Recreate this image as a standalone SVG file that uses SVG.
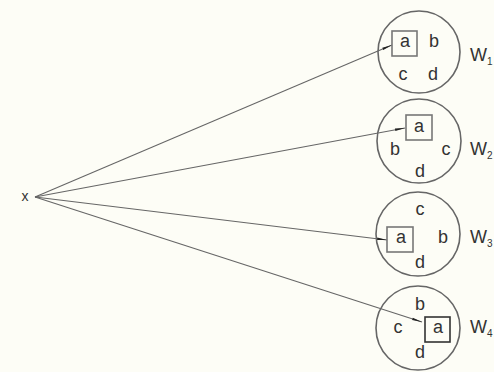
<svg xmlns="http://www.w3.org/2000/svg" width="494" height="372" viewBox="0 0 494 372">
<defs>
<style>
.bg{fill:#fdfdf6}
.c{fill:none;stroke:#666;stroke-width:1.6}
.b{fill:none;stroke:#777;stroke-width:1.6}
.b4{fill:none;stroke:#333;stroke-width:1.6}
.t{font-family:"Liberation Sans",Arial,sans-serif;font-size:18px;fill:#333;text-anchor:middle}
.w{font-family:"Liberation Sans",Arial,sans-serif;font-size:18px;fill:#333}
.s{font-size:10px}
.e{fill:none;stroke:#666;stroke-width:1.1}
</style>
<marker id="ah" viewBox="0 0 12 6" refX="12" refY="3" markerWidth="12" markerHeight="5" markerUnits="userSpaceOnUse" orient="auto">
<path d="M0,1.5 L12,3 L0,4.5 z" fill="#222"/>
</marker>
</defs>
<rect class="bg" x="0" y="0" width="494" height="372"/>
<g id="x"><text class="t" x="25" y="201" style="font-size:14px">x</text></g>
<g id="connectors">
<line class="e" x1="35" y1="197" x2="392" y2="45" marker-end="url(#ah)"/>
<line class="e" x1="35" y1="197" x2="405" y2="128" marker-end="url(#ah)"/>
<line class="e" x1="35" y1="197" x2="387" y2="240" marker-end="url(#ah)"/>
<line class="e" x1="35" y1="197" x2="422" y2="322" marker-end="url(#ah)"/>
</g>
<g id="w1">
<circle class="c" cx="419" cy="52" r="41"/>
<rect class="b" x="392" y="31" width="25" height="25"/>
<text class="t" x="405" y="47">a</text>
<text class="t" x="434" y="47">b</text>
<text class="t" x="403" y="80">c</text>
<text class="t" x="433" y="80">d</text>
<text class="w" x="470" y="61">W<tspan class="s" dy="4">1</tspan></text>
</g>
<g id="w2">
<circle class="c" cx="419" cy="141" r="42"/>
<rect class="b" x="406" y="115" width="26" height="25"/>
<text class="t" x="419" y="132">a</text>
<text class="t" x="395" y="155">b</text>
<text class="t" x="446" y="155">c</text>
<text class="t" x="420" y="177">d</text>
<text class="w" x="470" y="155">W<tspan class="s" dy="4">2</tspan></text>
</g>
<g id="w3">
<circle class="c" cx="418" cy="234" r="42"/>
<rect class="b" x="387" y="227" width="26" height="25"/>
<text class="t" x="401" y="243">a</text>
<text class="t" x="420" y="215">c</text>
<text class="t" x="443" y="243">b</text>
<text class="t" x="420" y="268">d</text>
<text class="w" x="470" y="243">W<tspan class="s" dy="4">3</tspan></text>
</g>
<g id="w4">
<circle class="c" cx="418" cy="328" r="42"/>
<rect class="b4" x="425" y="317" width="25" height="25"/>
<text class="t" x="438" y="333">a</text>
<text class="t" x="420" y="310">b</text>
<text class="t" x="398" y="333">c</text>
<text class="t" x="420" y="358">d</text>
<text class="w" x="470" y="333">W<tspan class="s" dy="4">4</tspan></text>
</g>
</svg>
